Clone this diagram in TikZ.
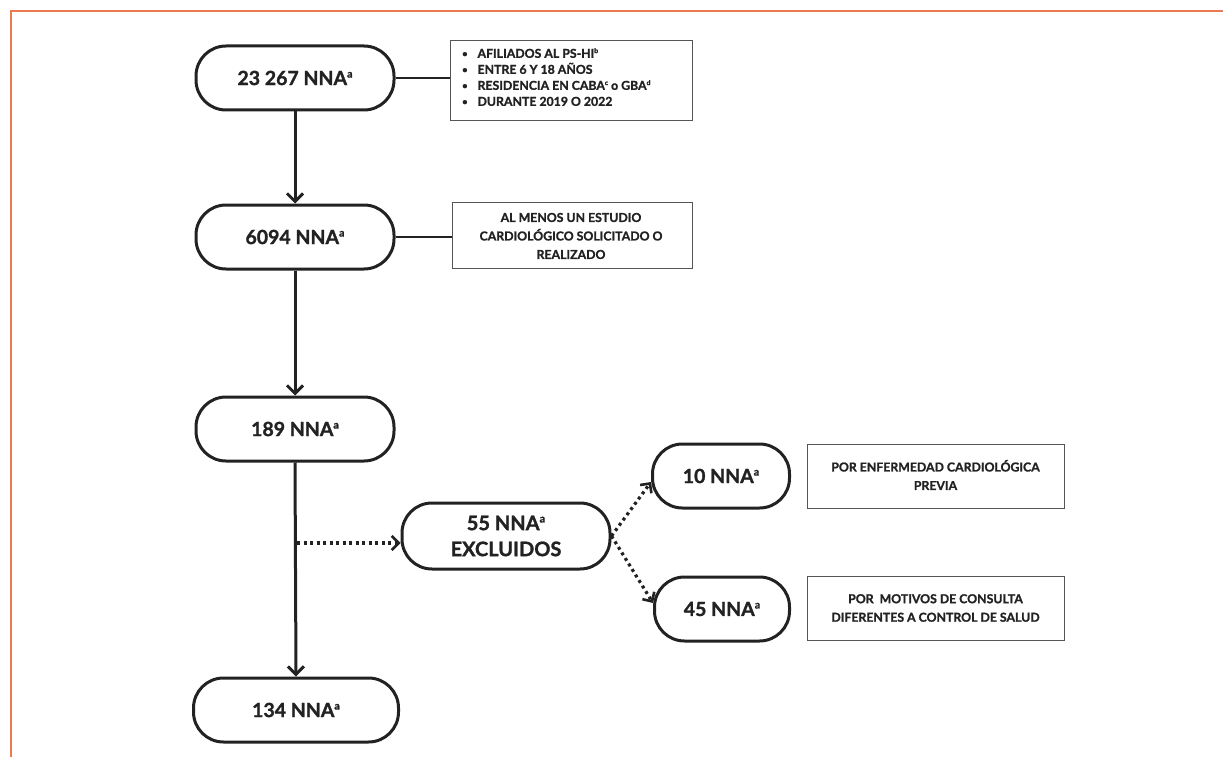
\documentclass[tikz,border=0pt]{standalone}
\usepackage{fontspec}
\setmainfont{Lato}[BoldFeatures={FakeBold=1.3}]
\usetikzlibrary{arrows.meta}
\definecolor{frameorange}{HTML}{EC7A4E}
\definecolor{ink}{HTML}{222222}
\definecolor{boxgray}{HTML}{555555}
\newcommand{\supmark}[1]{\raisebox{0.75ex}{\fontsize{0.55em}{0.55em}\selectfont #1}}
\newcommand{\bulletmark}{\raisebox{0.15ex}{\scalebox{0.75}{\textbullet}}\hspace{10pt}}
\tikzset{
  pill/.style={draw=ink, line width=3pt, rounded corners=30pt, minimum width=198pt, minimum height=64pt, inner sep=0pt, font=\fontsize{19.5}{22}\selectfont\bfseries, text=ink, align=center},
  smallpill/.style={pill, minimum width=136pt},
  infobox/.style={draw=boxgray, line width=0.9pt, inner sep=0pt, minimum width=242pt, minimum height=66pt},
  boxtext/.style={font=\fontsize{12.3}{18.5}\selectfont\bfseries, text=ink, align=center, inner sep=0pt},
  flow/.style={draw=ink, line width=3pt, -{Straight Barb[length=8pt,width=16pt,line width=3pt]}},
  dotflow/.style={draw=ink, line width=3.2pt, dash pattern=on 3pt off 3.5pt, -{Straight Barb[length=7pt,width=14pt,line width=2.6pt]}},
  link/.style={draw=ink, line width=1.4pt}
}
\begin{document}
\begin{tikzpicture}[x=1pt,y=-1pt]
\useasboundingbox (0,0) rectangle (1223,757);
\draw[frameorange, line width=1.8pt] (1223,11) -- (11,11) -- (11,757);

% main pills
\node[pill] (n1) at (295,78) {23 267 NNA\supmark{a}};
\node[pill] (n2) at (295,237) {6094 NNA\supmark{a}};
\node[pill] (n3) at (295,429) {189 NNA\supmark{a}};
\node[pill, minimum width=205pt] (n4) at (296,710) {134 NNA\supmark{a}};
\node[pill, minimum width=208pt, minimum height=66pt, font=\fontsize{20}{26}\selectfont\bfseries] (ex) at (506,536) {55 NNA\supmark{a}\\EXCLUIDOS};
\node[smallpill, minimum width=137pt] (e1) at (721,476) {10 NNA\supmark{a}};
\node[smallpill, minimum width=135pt] (e2) at (722,609) {45 NNA\supmark{a}};

% info boxes
\node[infobox, minimum height=80pt] (b1) at (571,80) {};
\node[boxtext, anchor=west, align=left, font=\fontsize{12.3}{16}\selectfont\bfseries] (b1t) at (462,77) {\bulletmark AFILIADOS AL PS-HI\supmark{b}\\\bulletmark ENTRE 6 Y 18 AÑOS\\\bulletmark RESIDENCIA EN CABA\supmark{c} o GBA\supmark{d}\\\bulletmark DURANTE 2019 O 2022};
\node[infobox, minimum width=240pt] (b2) at (572,235) {};
\node[boxtext] (b2t) at (571,236) {AL MENOS UN ESTUDIO\\CARDIOLÓGICO SOLICITADO O\\REALIZADO};
\node[infobox, minimum width=257pt, minimum height=64pt] (b3) at (935.5,476) {};
\node[boxtext] (b3t) at (935.5,475) {POR ENFERMEDAD CARDIOLÓGICA\\PREVIA};
\node[infobox, minimum width=257pt, minimum height=64pt] (b4) at (935.5,608) {};
\node[boxtext] (b4t) at (935.5,608) {POR\ \ MOTIVOS DE CONSULTA\\DIFERENTES A CONTROL DE SALUD};

% links to boxes
\draw[link] (n1.east) -- (b1.west |- n1.east);
\draw[link] (n2.east) -- (b2.west |- n2.east);

% vertical flow
\draw[flow] (n1.south) -- (n2.north);
\draw[flow] (n2.south) -- (n3.north);
\draw[flow] (n3.south) -- (n4.north);

% excluded branch
\coordinate (tap) at (297,543);
\draw[dotflow] (tap) -- (ex.west |- tap);
\draw[dotflow] (ex.east) -- ([yshift=-6pt]e1.west);
\draw[dotflow] (ex.east) -- ([yshift=6pt]e2.west);
\end{tikzpicture}
\end{document}
